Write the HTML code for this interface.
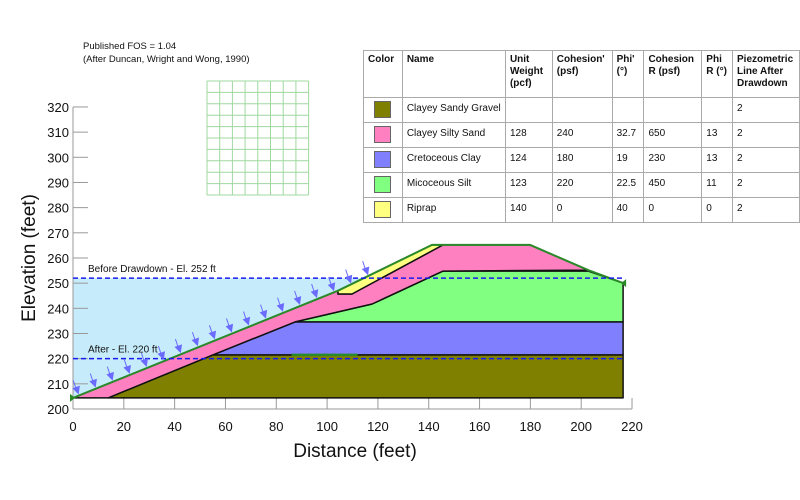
<!DOCTYPE html>
<html><head><meta charset="utf-8"><style>
body{margin:0;background:#fff;width:800px;height:500px;overflow:hidden;font-family:"Liberation Sans",Arial,sans-serif}
svg{position:absolute;left:0;top:0}
table{position:absolute;left:363px;top:50px;border-collapse:collapse;font-size:10px;color:#111}
td,th{border:1px solid #aaa;padding:3px 4px;vertical-align:top;text-align:left}
th{font-weight:bold;height:40px;line-height:12px}
td{height:18px;line-height:16px;padding:3px 4px}
.sw{display:block;width:15px;height:15px;border:1px solid #666;margin-left:6px}
</style></head><body>
<svg id="chart" width="800" height="500"></svg>
<table>
<tr style="background:#fff"><th style="width:30px">Color</th><th style="width:96px">Name</th><th style="width:38px">Unit Weight (pcf)</th><th style="width:51px">Cohesion' (psf)</th><th style="width:23px">Phi' (°)</th><th style="width:49px">Cohesion R (psf)</th><th style="width:22px">Phi R (°)</th><th style="width:58px">Piezometric Line After Drawdown</th></tr>
<tr><td><span class="sw" style="background:#808000"></span></td><td>Clayey Sandy Gravel</td><td></td><td></td><td></td><td></td><td></td><td>2</td></tr>
<tr><td><span class="sw" style="background:#ff80c0"></span></td><td>Clayey Silty Sand</td><td>128</td><td>240</td><td>32.7</td><td>650</td><td>13</td><td>2</td></tr>
<tr><td><span class="sw" style="background:#8080ff"></span></td><td>Cretoceous Clay</td><td>124</td><td>180</td><td>19</td><td>230</td><td>13</td><td>2</td></tr>
<tr><td><span class="sw" style="background:#80ff80"></span></td><td>Micoceous Silt</td><td>123</td><td>220</td><td>22.5</td><td>450</td><td>11</td><td>2</td></tr>
<tr><td><span class="sw" style="background:#ffff80"></span></td><td>Riprap</td><td>140</td><td>0</td><td>40</td><td>0</td><td>0</td><td>2</td></tr>
</table>
<script>
const xTicks=[0,20,40,60,80,100,120,140,160,180,200,220];
const yTicks=[200,210,220,230,240,250,260,270,280,290,300,310,320];
const gravel=[[13.8,204.4],[55,221.5],[216.5,221.5],[216.5,204.4]];
const clay=[[55,221.5],[87.4,234.6],[216.5,234.6],[216.5,221.5]];
const silt=[[87.4,234.6],[117.7,241.7],[145.6,254.8],[202.7,254.8],[216.5,250],[216.5,234.6]];
const sand=[[0,204.4],[104.3,247],[104.3,245.7],[109.8,245.7],[145.6,265.2],[179.9,265.2],[202.7,255.2],[145.6,254.8],[117.7,241.7],[87.4,234.6],[55,221.5],[13.8,204.4]];
const riprap=[[104.3,247],[141.3,265.2],[145.6,265.2],[109.8,245.7],[104.3,245.7]];
const surface=[[0,204.4],[104.3,247],[141.3,265.2],[179.9,265.2],[202.7,255.2],[216.5,250]];
const waterBefore=[252];
const waterAfter=[220];
const X=v=>73+v*2.541, Y=v=>409-(v-200)*2.517;
const NS="http://www.w3.org/2000/svg", svg=document.getElementById('chart');
function el(t,a,p){const e=document.createElementNS(NS,t);for(const k in a)e.setAttribute(k,a[k]);(p||svg).appendChild(e);return e;}
const pts=a=>a.map(p=>X(p[0]).toFixed(1)+','+Y(p[1]).toFixed(1)).join(' ');
function txt(s,x,y,size,anchor){const t=el('text',{x:x,y:y,'font-size':size,'text-anchor':anchor||'start',fill:'#111'});t.textContent=s;return t;}
function surfX(level){for(let i=0;i<surface.length-1;i++){const a=surface[i],b=surface[i+1];if(b[1]>a[1]&&level>=a[1]&&level<=b[1])return a[0]+(level-a[1])*(b[0]-a[0])/(b[1]-a[1]);}return 0;}
function surfY(x){for(let i=0;i<surface.length-1;i++){const a=surface[i],b=surface[i+1];if(x>=a[0]&&x<=b[0])return a[1]+(x-a[0])*(b[1]-a[1])/(b[0]-a[0]);}return surface[0][1];}
let t=txt('Published FOS = 1.04',83,49,9.5);
t=txt('(After Duncan, Wright and Wong, 1990)',83,62,9.5);
const g=el('g',{stroke:'#9fd89f','stroke-width':1});
for(let i=0;i<=8;i++)el('line',{x1:207+i*12.7,y1:81,x2:207+i*12.7,y2:195},g);
for(let j=0;j<=10;j++)el('line',{x1:207,y1:81+j*11.4,x2:308.6,y2:81+j*11.4},g);
const wx=surfX(waterBefore[0]);
const wpoly=[[0,waterBefore[0]],[wx,waterBefore[0]]];
surface.filter(p=>p[0]<wx).reverse().forEach(p=>wpoly.push(p));
let w=el('polygon',{points:pts(wpoly),fill:'#c6ecfb'});

const ax=el('g',{stroke:'#999','stroke-width':1});
el('line',{x1:73,y1:Y(320),x2:73,y2:409},ax);el('line',{x1:73,y1:409,x2:X(220),y2:409},ax);
yTicks.forEach(v=>{el('line',{x1:73,y1:Y(v),x2:88,y2:Y(v)},ax);const l=txt(v,69,Y(v)+5,13,'end');});
xTicks.forEach(v=>{el('line',{x1:X(v),y1:398,x2:X(v),y2:409},ax);const l=txt(v,X(v),431,13,'middle');});
t=txt('Distance (feet)',355,457,19,'middle');
t=txt('Elevation (feet)',0,0,19,'middle');t.setAttribute('transform','translate(35,258) rotate(-90)');
[[gravel,'#808000','layer-clayey-sandy-gravel'],[clay,'#8080ff','layer-cretoceous-clay'],[silt,'#80ff80','layer-micoceous-silt'],[sand,'#ff80c0','layer-clayey-silty-sand'],[riprap,'#ffff80','layer-riprap']].forEach(L=>{
 const p=el('polygon',{points:pts(L[0]),fill:L[1],stroke:'#111','stroke-width':1.5,'stroke-linejoin':'round'});
 });
el('line',{x1:X(86),y1:Y(221.5),x2:X(112),y2:Y(221.5),stroke:'#2a8a2a','stroke-width':2.5});
let s=el('polyline',{points:pts(surface),fill:'none',stroke:'#2a8a2a','stroke-width':2});

el('polygon',{points:`${X(0)-3},${Y(204.4)-4} ${X(0)+2},${Y(204.4)} ${X(0)-3},${Y(204.4)+4}`,fill:'#2a8a2a'});
el('polygon',{points:`${X(216.5)+3},${Y(250)-4} ${X(216.5)-2},${Y(250)} ${X(216.5)+3},${Y(250)+4}`,fill:'#2a8a2a'});
[[waterBefore[0],'Before Drawdown - El. 252 ft','water-line-before'],[waterAfter[0],'After - El. 220 ft','water-line-after']].forEach(W=>{
 const l=el('line',{x1:73,y1:Y(W[0]),x2:X(216.5),y2:Y(W[0]),stroke:'#1a1aee','stroke-width':1.5,'stroke-dasharray':'5,3'});
 
 const lb=txt(W[1],88,Y(W[0])-6,10);});
const ag=el('g',{stroke:'#6b6bff','stroke-width':1,fill:'#6b6bff'});
for(let xf=0.5;xf<wx+4;xf+=6.7){
 const yf=surfY(xf); const tx=X(xf)+3, ty=Y(yf)-5;
 el('line',{x1:tx-4,y1:ty-12,x2:tx,y2:ty},ag);
 el('polygon',{points:`${tx+1},${ty+1} ${tx-4},${ty-4} ${tx+2},${ty-6}`},ag);}
</script>
</body></html>
